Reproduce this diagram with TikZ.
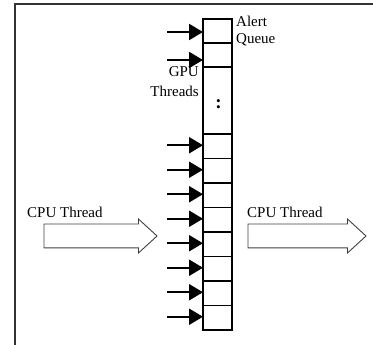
\documentclass[tikz,border=0pt]{standalone}
\usepackage{fontspec}
\setmainfont{Liberation Serif}
\usetikzlibrary{shapes.arrows, positioning, arrows.meta}

\begin{document}
\begin{tikzpicture}[x=1pt, y=-1pt, node distance=0pt,
    every node/.style={font=\fontsize{15}{18}\selectfont},
    cell/.style={draw, line width=1.3pt, minimum width=29pt, minimum height=24.5pt, inner sep=0pt, outer sep=0pt},
    thread/.style={-{Triangle[length=14pt, width=16pt]}, line width=2.2pt},
    cpu/.style={draw=black!75, line width=0.9pt, single arrow, single arrow head extend=5pt, single arrow tip angle=85, minimum height=113pt, inner xsep=0pt, inner ysep=11.5pt, text height=0pt, text depth=0pt}]
    \useasboundingbox (0,0) rectangle (373,345);
    % frame
    \draw[black!80, line width=1.8pt] (373,4) -- (15,4) -- (15,345);

    % alert queue
    \node[cell, minimum height=24pt] (q1) at (217.5,31) {};
    \node[cell, minimum height=24pt, below=of q1] (q2) {};
    \node[cell, minimum height=67pt, below=of q2] (qdots) {};
    \node[font=\fontsize{19}{19}\bfseries] (dots) at (218.5,104) {:};
    \node[cell, below=of qdots] (c1) {};
    \foreach \i [remember=\i as \j (initially 1)] in {2,...,8}
        \node[cell, below=of c\j] (c\i) {};

    \node[anchor=north west, align=left, inner sep=0pt, font=\fontsize{15}{17}\selectfont] (alert) at (236,16) {Alert\\Queue};
    \node[anchor=north east, align=right, inner sep=0pt, font=\fontsize{15}{20}\selectfont] (gpu) at (199,66) {GPU\\Threads};

    % gpu threads
    \coordinate (t1) at (167,32);
    \coordinate (t2) at (167,60);
    \draw[thread] (t1) -- (t1 -| q1.west);
    \draw[thread] (t2) -- (t2 -| q2.west);
    \foreach \i in {1,...,8}
        \draw[thread] ([xshift=-36pt, yshift=1pt]c\i.west) -- ([yshift=1pt]c\i.west);

    % cpu threads
    \node[cpu] (cpu in) at (94,236) {};
    \node[cpu, minimum height=118pt] (cpu out) at (300.5,236) {};
    \node[anchor=west, inner sep=0pt] (cpu in label) at (27,212) {CPU Thread};
    \node[anchor=west, inner sep=0pt] (cpu out label) at (247,212) {CPU Thread};
\end{tikzpicture}
\end{document}
